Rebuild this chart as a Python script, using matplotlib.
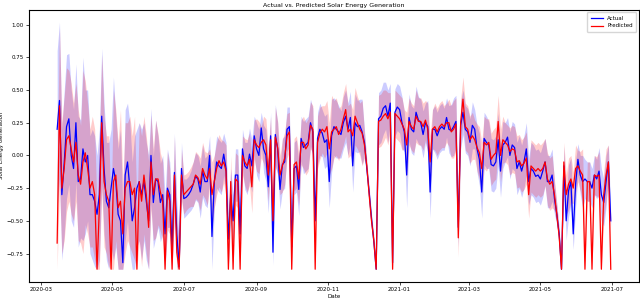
import matplotlib
matplotlib.use('Agg')
import matplotlib.pyplot as plt
import matplotlib.dates as mdates
import numpy as np
import pandas as pd

# every second day from 2020-03-15
start_date = '2020-03-15'

actual = [
    0.20, 0.42, -0.30, -0.06, 0.22, 0.28, 0.00, -0.10, 0.25, -0.20,
    -0.18, 0.05, -0.05, 0.00, -0.30, -0.30, -0.35, -0.45, -0.30, 0.30,
    -0.10, -0.35, -0.40, -0.25, -0.10, -0.20, -0.45, -0.50, -0.82, -0.15,
    -0.05, -0.25, -0.50, -0.40, -0.25, -0.20, -0.30, -0.20, -0.35, -0.50,
    0.00, -0.36, -0.18, -0.20, -0.36, -0.30, -0.60, -0.25, -0.30, -0.70,
    -0.13, -0.60, -0.85, -0.10, -0.33, -0.32, -0.30, -0.27, -0.22, -0.16,
    -0.18, -0.28, -0.12, -0.20, -0.20, 0.00, -0.62, -0.20, -0.05, -0.08,
    -0.10, 0.01, -0.10, -0.64, -0.30, -0.50, -0.15, -0.15, -0.60, 0.05,
    -0.08, -0.10, 0.01, -0.08, 0.15, 0.05, 0.00, 0.21, 0.05, 0.00,
    -0.24, 0.15, -0.74, 0.16, 0.05, -0.26, -0.07, -0.05, 0.20, 0.22,
    -0.70, -0.10, -0.08, -0.26, 0.13, 0.06, 0.08, 0.10, 0.25, 0.18,
    -0.50, 0.13, 0.20, 0.17, 0.10, 0.12, -0.20, 0.15, 0.22, 0.20,
    0.18, 0.16, 0.25, 0.30, 0.20, 0.29, -0.08, 0.25, 0.22, 0.23,
    0.18, 0.10, -0.10, -0.28, -0.48, -0.66, -0.87, 0.28, 0.30, 0.36,
    0.38, 0.30, 0.40, -0.82, 0.33, 0.37, 0.35, 0.25, 0.18, -0.15,
    0.29, 0.20, 0.18, 0.33, 0.27, 0.25, 0.16, 0.25, 0.22, -0.28,
    0.20, 0.20, 0.15, 0.20, 0.22, 0.20, 0.29, 0.20, 0.19, 0.22,
    0.26, -0.55, 0.23, 0.33, 0.20, 0.18, 0.10, 0.23, 0.20, 0.05,
    -0.03, -0.28, 0.13, 0.10, 0.08, -0.07, -0.08, -0.05, 0.12, -0.12,
    0.08, 0.10, 0.14, 0.00, 0.08, 0.06, -0.10, -0.05, -0.12, -0.05,
    0.05, -0.20, -0.10, -0.12, -0.16, -0.15, -0.18, -0.12, -0.05, -0.20,
    -0.20, -0.15, -0.33, -0.45, -0.60, -0.87, -0.08, -0.50, -0.27, -0.20,
    -0.60, -0.22, -0.03, -0.15, -0.20, -0.18, -0.20, -0.20, -0.25, -0.15,
    -0.18, -0.12, -0.30, -0.36, -0.20, -0.05, -0.50,
]

predicted = [
    -0.67, 0.38, -0.25, -0.10, 0.12, 0.15, 0.05, -0.05, 0.10, -0.15,
    -0.22, -0.05, 0.02, -0.10, -0.25, -0.20, -0.30, -0.87, -0.40, 0.25,
    -0.20, -0.30, -0.35, -0.87, -0.20, -0.15, -0.40, -0.35, -0.60, -0.25,
    -0.20, -0.20, -0.30, -0.25, -0.87, -0.20, -0.35, -0.15, -0.30, -0.55,
    -0.05, -0.30, -0.18, -0.18, -0.28, -0.35, -0.87, -0.27, -0.35, -0.87,
    -0.15, -0.74, -0.87, -0.15, -0.30, -0.28, -0.26, -0.24, -0.22, -0.15,
    -0.17, -0.22, -0.10, -0.15, -0.18, -0.10, -0.30, -0.20, -0.10, -0.04,
    -0.08, -0.05, -0.12, -0.87, -0.20, -0.87, -0.18, -0.20, -0.87, 0.00,
    -0.05, -0.08, -0.03, -0.24, 0.12, 0.08, 0.06, 0.10, 0.12, 0.08,
    -0.15, 0.12, -0.50, 0.14, 0.06, -0.15, -0.08, -0.02, 0.15, 0.18,
    -0.87, -0.07, -0.05, -0.18, 0.10, 0.10, 0.05, 0.08, 0.23, 0.20,
    -0.87, 0.10, 0.17, 0.20, 0.18, 0.22, 0.05, 0.18, 0.20, 0.22,
    0.16, 0.20, 0.28, 0.35, 0.18, 0.20, 0.15, 0.30, 0.25, 0.20,
    0.17, 0.08, -0.08, -0.30, -0.50, -0.65, -0.87, 0.26, 0.27, 0.30,
    0.32, 0.28, 0.33, -0.87, 0.32, 0.30, 0.28, 0.24, 0.20, 0.08,
    0.26, 0.22, 0.20, 0.30, 0.26, 0.26, 0.22, 0.27, 0.20, -0.05,
    0.20, 0.22, 0.18, 0.22, 0.24, 0.22, 0.25, 0.25, 0.18, 0.20,
    0.24, -0.63, 0.25, 0.43, 0.22, 0.20, 0.12, 0.15, 0.12, 0.06,
    0.02, -0.10, 0.10, 0.08, 0.10, -0.03, 0.00, 0.02, 0.26, 0.00,
    0.12, 0.10, 0.08, 0.03, 0.05, 0.04, -0.05, -0.04, -0.08, -0.06,
    -0.02, -0.30, -0.08, -0.10, -0.12, -0.10, -0.12, -0.10, -0.05, -0.18,
    -0.22, -0.20, -0.30, -0.45, -0.62, -0.87, -0.05, -0.30, -0.22, -0.18,
    -0.25, -0.10, -0.08, -0.12, -0.15, -0.87, -0.20, -0.20, -0.87, -0.15,
    -0.16, -0.15, -0.87, -0.30, -0.15, -0.05, -0.87,
]

# half width of the shaded uncertainty band
spread = [
    0.60, 0.60, 0.50, 0.55, 0.55, 0.50, 0.50, 0.45, 0.45, 0.50,
    0.45, 0.70, 0.55, 0.50, 0.45, 0.50, 0.50, 0.45, 0.50, 0.52,
    0.50, 0.45, 0.50, 0.45, 0.70, 0.50, 0.50, 0.70, 0.40, 0.50,
    0.45, 0.50, 0.45, 0.55, 0.45, 0.45, 0.50, 0.45, 0.45, 0.50,
    0.36, 0.35, 0.45, 0.35, 0.30, 0.30, 0.30, 0.30, 0.25, 0.25,
    0.30, 0.25, 0.20, 0.20, 0.15, 0.14, 0.14, 0.15, 0.17, 0.18,
    0.18, 0.20, 0.20, 0.18, 0.20, 0.15, 0.25, 0.20, 0.20, 0.20,
    0.20, 0.16, 0.20, 0.20, 0.20, 0.20, 0.20, 0.20, 0.20, 0.15,
    0.18, 0.20, 0.20, 0.20, 0.15, 0.20, 0.20, 0.12, 0.18, 0.20,
    0.20, 0.18, 0.10, 0.23, 0.20, 0.15, 0.20, 0.20, 0.17, 0.15,
    0.10, 0.20, 0.20, 0.20, 0.17, 0.20, 0.20, 0.20, 0.18, 0.18,
    0.10, 0.20, 0.20, 0.18, 0.20, 0.20, 0.20, 0.28, 0.22, 0.22,
    0.20, 0.18, 0.20, 0.20, 0.20, 0.20, 0.20, 0.22, 0.20, 0.20,
    0.25, 0.10, 0.05, 0.04, 0.04, 0.04, 0.02, 0.20, 0.20, 0.20,
    0.18, 0.20, 0.15, 0.05, 0.18, 0.18, 0.18, 0.20, 0.15, 0.25,
    0.18, 0.18, 0.18, 0.20, 0.18, 0.18, 0.18, 0.15, 0.20, 0.20,
    0.15, 0.18, 0.18, 0.18, 0.18, 0.16, 0.15, 0.18, 0.20, 0.22,
    0.20, 0.15, 0.18, 0.17, 0.18, 0.18, 0.18, 0.18, 0.15, 0.18,
    0.20, 0.20, 0.20, 0.20, 0.18, 0.20, 0.20, 0.20, 0.20, 0.20,
    0.18, 0.15, 0.15, 0.18, 0.18, 0.18, 0.20, 0.20, 0.20, 0.20,
    0.20, 0.18, 0.20, 0.20, 0.20, 0.20, 0.20, 0.20, 0.18, 0.20,
    0.20, 0.20, 0.12, 0.08, 0.05, 0.03, 0.15, 0.15, 0.20, 0.18,
    0.12, 0.18, 0.12, 0.15, 0.20, 0.15, 0.15, 0.15, 0.15, 0.15,
    0.15, 0.18, 0.20, 0.18, 0.20, 0.13, 0.05,
]

actual = np.array(actual)
predicted = np.array(predicted)
spread = np.array(spread)
dates = pd.date_range(start_date, periods=len(actual), freq='2D')
floor = min(actual.min(), predicted.min())

plt.rcParams['font.family'] = 'DejaVu Sans'
plt.rcParams['font.size'] = 4

fig = plt.figure(figsize=(6.4, 2.99), dpi=100)
ax = fig.add_axes([0.0453, 0.058, 0.953, 0.910])

ax.plot(dates, actual, color='blue', lw=0.9, label='Actual')
ax.fill_between(dates, np.maximum(actual - spread, floor), actual + spread,
                color='blue', alpha=0.2, lw=0)
ax.plot(dates, predicted, color='red', lw=0.9, label='Predicted')
ax.fill_between(dates, np.maximum(predicted - spread, floor), predicted + spread,
                color='red', alpha=0.2, lw=0)

ax.set_ylim(-0.965, 1.115)
ax.set_xlim(pd.Timestamp('2020-02-20'), pd.Timestamp('2021-07-24'))
ax.set_yticks([-0.75, -0.5, -0.25, 0.0, 0.25, 0.5, 0.75, 1.0])
ax.xaxis.set_major_locator(mdates.MonthLocator(bymonth=[1, 3, 5, 7, 9, 11]))
ax.xaxis.set_major_formatter(mdates.DateFormatter('%Y-%m'))
ax.tick_params(length=2.5, width=0.5, pad=1.5, labelsize=4)
for s in ax.spines.values():
    s.set_linewidth(0.8)

ax.set_title('Actual vs. Predicted Solar Energy Generation', fontsize=4.5, pad=2)
ax.set_xlabel('Date', fontsize=4, labelpad=1)
ax.set_ylabel('Solar Energy Generation', fontsize=4, labelpad=2)
ax.legend(loc='upper right', fontsize=4, handlelength=2.2, borderpad=0.6)

fig.savefig('out.png', dpi=100)
